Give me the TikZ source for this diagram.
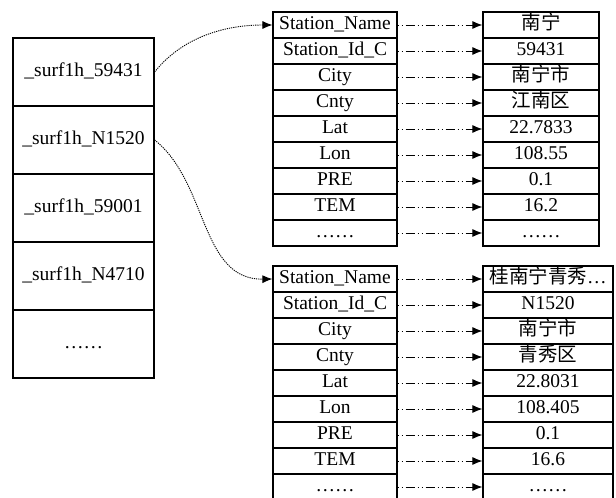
\documentclass[tikz,border=0pt]{standalone}
\usepackage{fontspec}
\setmainfont{Liberation Serif}
\newfontfamily\cjk{Noto Sans CJK SC}
\usetikzlibrary{arrows.meta}
\tikzset{
  cell/.style={draw, line width=1.2pt, inner sep=0pt, text height=13pt, text depth=5pt,
    minimum height=26pt, font=\fontsize{19.5pt}{22pt}\selectfont},
  lcell/.style={cell, minimum width=141pt, minimum height=68pt},
  kcell/.style={cell, minimum width=124pt},
  vcell/.style={cell, minimum width=116pt},
  vcellb/.style={cell, minimum width=130pt},
  flow/.style={line width=1pt, dash pattern=on 1.2pt off 2.8pt on 1.2pt off 2.8pt on 9pt off 3pt,
    -{Latex[length=10pt,width=8pt]}},
  link/.style={line width=0.9pt, dash pattern=on 1.2pt off 1pt,
    -{Latex[length=10pt,width=8pt]}}
}
\begin{document}
\begin{tikzpicture}[x=1pt,y=-1pt]
\useasboundingbox (0,0) rectangle (616,498);
% left column
\node[lcell] (l1) at (83.5,72) {\_surf1h\_59431};
\node[lcell] (l2) at (83.5,140) {\_surf1h\_N1520};
\node[lcell] (l3) at (83.5,208) {\_surf1h\_59001};
\node[lcell] (l4) at (83.5,276) {\_surf1h\_N4710};
\node[lcell] (l5) at (83.5,344) {……};
% top tables
\foreach \k/\v [count=\i] in {Station\_Name/{\cjk 南宁}, Station\_Id\_C/59431, City/{\cjk 南宁市},
  Cnty/{\cjk 江南区}, Lat/22.7833, Lon/108.55, PRE/0.1, TEM/16.2, ……/……}{
  \node[kcell] (ta\i) at (335,{25+26*(\i-1)}) {\k};
  \node[vcell] (tb\i) at (541,{25+26*(\i-1)}) {\v};
  \draw[flow] (ta\i.east) -- (tb\i.west);
}
% bottom tables
\foreach \k/\v [count=\i] in {Station\_Name/{{\cjk 桂南宁青秀}…}, Station\_Id\_C/N1520, City/{\cjk 南宁市},
  Cnty/{\cjk 青秀区}, Lat/22.8031, Lon/108.405, PRE/0.1, TEM/16.6, ……/……}{
  \node[kcell] (ba\i) at (335,{279+26*(\i-1)}) {\k};
  \node[vcellb] (bb\i) at (548,{279+26*(\i-1)}) {\v};
  \draw[flow] (ba\i.east) -- (bb\i.west);
}
% links
\draw[link] (l1.east) .. controls (180,40) and (220,25) .. (ta1.west);
\draw[link] (l2.east) .. controls (208,182) and (200,280) .. (ba1.west);
\end{tikzpicture}
\end{document}
